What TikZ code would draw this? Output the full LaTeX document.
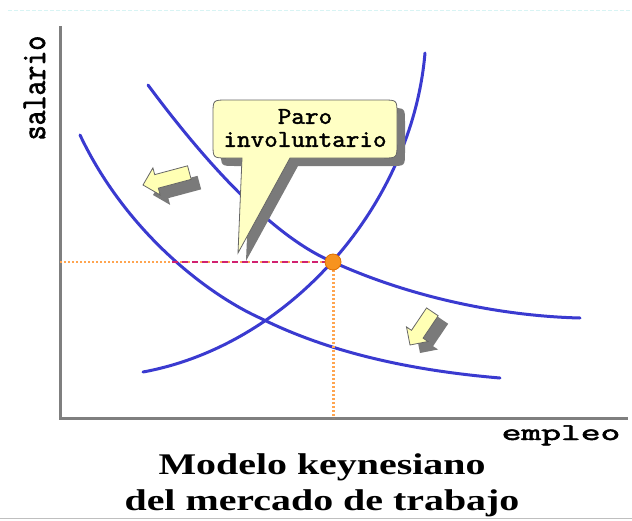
\documentclass[tikz,border=0pt]{standalone}
\usepackage{fontspec}
\setmainfont{Liberation Serif}
\newfontfamily\typew{Latin Modern Mono}[FakeBold=2]
\definecolor{curveblue}{HTML}{3A3AD0}
\definecolor{axisgray}{HTML}{7F7F7F}
\definecolor{bubbleyellow}{HTML}{FFFFC4}
\definecolor{arrowyellow}{HTML}{FFFFB4}
\definecolor{shadowgray}{HTML}{7A7A7A}
\definecolor{dotorange}{HTML}{F7931E}
\definecolor{dotedge}{HTML}{E07000}
\definecolor{guideorange}{HTML}{FFA550}
\definecolor{gapmagenta}{HTML}{D02070}
\definecolor{topcyan}{HTML}{D8F4F4}
\begin{document}
\begin{tikzpicture}[x=1pt,y=-1pt,
  curve/.style={draw=curveblue, line width=3pt, line cap=round},
  axisline/.style={draw=axisgray, line width=3pt},
  guide/.style={draw=guideorange, line width=2pt, dash pattern=on 2pt off 2pt},
  gapline/.style={draw=gapmagenta, line width=2.5pt, dash pattern=on 6pt off 4pt},
  outline/.style={draw=black!60, line width=0.8pt},
  monolabel/.style={inner sep=0pt},
  titletext/.style={font=\fontsize{30}{36}\selectfont\bfseries, align=center, inner sep=0pt}
]
\useasboundingbox (0,0) rectangle (632,520);
% faint frame lines
\draw[topcyan, line width=1pt, dash pattern=on 4pt off 2pt] (8,10) -- (632,10);
\draw[black!25, line width=1pt] (0,518.5) -- (632,518.5);

% axes
\coordinate (ytop) at (60,26);
\coordinate (origin) at (60,418);
\coordinate (xend) at (628,418);
\draw[axisline] (ytop) -- (origin) -- (xend);

% curves
\coordinate (E) at (333,262);
\coordinate (X) at (260,318);
\draw[curve] (143,372) .. controls (290,345) and (412,205) .. (425,53);
\draw[curve] (148,85) .. controls (205,162) and (273,237) .. (E) .. controls (410,297) and (500,316) .. (580,318);
\draw[curve] (80,135) .. controls (125,230) and (205,293) .. (X) .. controls (340,358) and (430,372) .. (500,378);

% guides
\coordinate (wy) at (60,262);
\coordinate (ex) at (333,418);
\coordinate (gapL) at (172,262);
\draw[guide] (wy) -- (E);
\draw[guide, line width=3pt] (E) -- (ex);
\draw[gapline] (gapL) -- (E);
\node[circle, fill=dotorange, draw=dotedge, line width=0.8pt, minimum size=16pt, inner sep=0pt] (eq) at (E) {};

% arrows
\begin{scope}[shift={(153,195)}, rotate=195]
  \fill[shadowgray] (0,0) -- (-14,-14) -- (-14,-7) -- (-48,-7) -- (-48,7) -- (-14,7) -- (-14,14) -- cycle;
\end{scope}
\begin{scope}[shift={(143,185)}, rotate=195]
  \filldraw[fill=arrowyellow, outline] (0,0) -- (-14,-14) -- (-14,-7) -- (-48,-7) -- (-48,7) -- (-14,7) -- (-14,14) -- cycle;
\end{scope}
\begin{scope}[shift={(420,353)}, rotate=236]
  \fill[shadowgray] (0,0) -- (-13,-13) -- (-13,-7) -- (-40,-7) -- (-40,7) -- (-13,7) -- (-13,13) -- cycle;
\end{scope}
\begin{scope}[shift={(410,345)}, rotate=236]
  \filldraw[fill=arrowyellow, outline] (0,0) -- (-13,-13) -- (-13,-7) -- (-40,-7) -- (-40,7) -- (-13,7) -- (-13,13) -- cycle;
\end{scope}

% speech bubble
\begin{scope}[shift={(8,8)}]
\fill[shadowgray] (238,253) -- (242,158) -- (227,158) .. controls (213,158) .. (213,144) -- (213,114) .. controls (213,100) .. (227,100) -- (383,100) .. controls (397,100) .. (397,114) -- (397,144) .. controls (397,158) .. (383,158) -- (290,158) -- cycle;
\end{scope}
\filldraw[fill=bubbleyellow, outline] (238,253) -- (242,158) -- (227,158) .. controls (213,158) .. (213,144) -- (213,114) .. controls (213,100) .. (227,100) -- (383,100) .. controls (397,100) .. (397,114) -- (397,144) .. controls (397,158) .. (383,158) -- (290,158) -- cycle;
\node[monolabel, font=\fontsize{24}{23}\selectfont\typew, align=center] (bubbletext) at (305,128) {\scalebox{1.1}[1]{Paro}\\\scalebox{1.1}[1]{involuntario}};

% axis labels
\node[monolabel, font=\fontsize{24}{26}\selectfont\typew, anchor=base] (xlabel) at (561,440) {\scalebox{1.6}[1]{empleo}};
\node[monolabel, font=\fontsize{29}{30}\selectfont\typew, anchor=base, rotate=90] (ylabel) at (45,88) {\scalebox{1}[1.2]{salario}};

% title
\node[titletext] (title) at (322,485) {\scalebox{1.33}[1]{Modelo keynesiano}\\\scalebox{1.33}[1]{del mercado de trabajo}};
\end{tikzpicture}
\end{document}
